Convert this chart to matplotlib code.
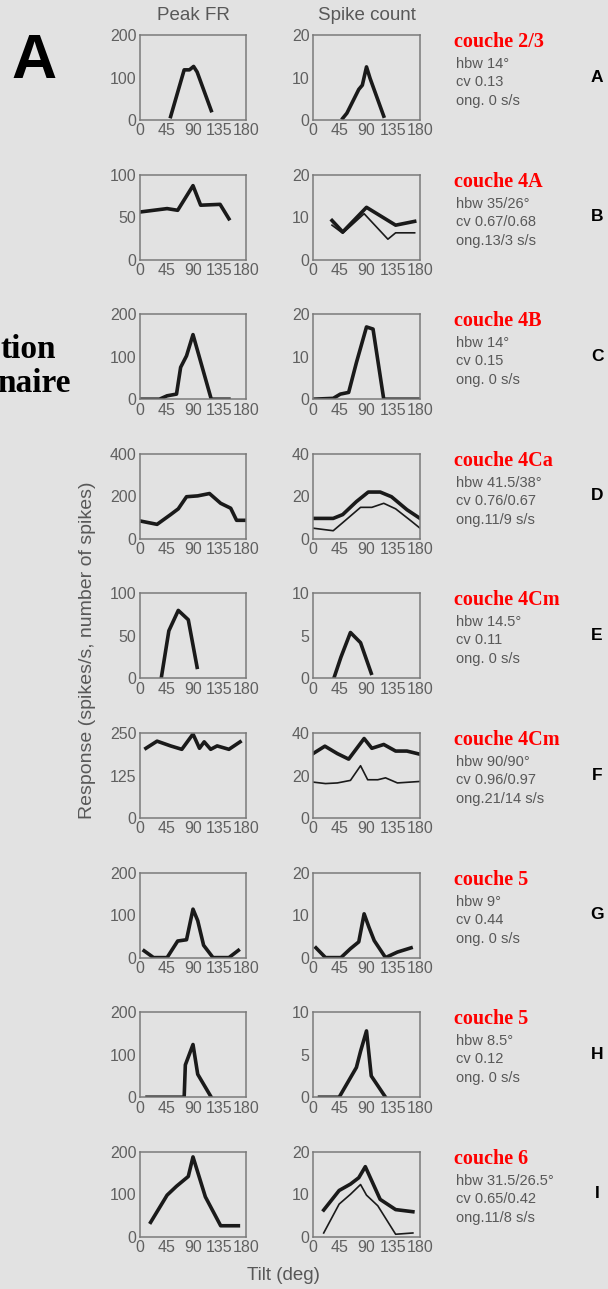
import matplotlib as mpl
mpl.use('Agg')
import matplotlib.pyplot as plt

# tilt (deg) / peak firing rate
frA_x = [52, 75, 84, 91, 97, 121]
frA_y = [8, 118, 118, 126, 113, 22]
frB_x = [0, 46, 64, 90, 103, 136, 151]
frB_y = [56, 60, 58, 87, 64, 65, 48]
frC_x = [0, 33, 46, 62, 69, 79, 90, 121, 151]
frC_y = [0, 0, 8, 12, 75, 102, 152, 0, 0]
frD_x = [0, 29, 52, 65, 79, 98, 118, 137, 154, 164, 180]
frD_y = [84, 68, 114, 141, 198, 202, 213, 167, 144, 87, 87]
frE_x = [36, 49, 65, 82, 97]
frE_y = [0, 56, 80, 69, 13]
frF_x = [10, 29, 52, 71, 90, 101, 109, 120, 131, 151, 170]
frF_y = [205, 226, 212, 202, 247, 205, 224, 202, 212, 202, 224]
frG_x = [7, 23, 46, 64, 79, 90, 98, 108, 124, 151, 167]
frG_y = [16, 0, 0, 39, 42, 114, 87, 29, 0, 0, 17]
frH_x = [12, 75, 77, 90, 98, 121]
frH_y = [0, 0, 76, 124, 54, 0]
frI_x = [18, 46, 62, 82, 90, 111, 137, 167]
frI_y = [34, 98, 119, 142, 188, 94, 26, 26]

# tilt (deg) / spike count (thick line, and thin line where there is one)
scA_x = [50, 57, 77, 83, 90, 96, 119]
scA_y = [0.4, 1.6, 7.2, 8.2, 12.5, 9.8, 0.9]
scB_x = [32, 50, 90, 139, 171]
scB_y = [9.2, 6.5, 12.3, 8.1, 9.0]
scB_x2 = [32, 50, 86, 126, 139, 171]
scB_y2 = [8.1, 6.2, 10.8, 4.8, 6.3, 6.3]
scC_x = [0, 34, 46, 60, 73, 90, 101, 119, 180]
scC_y = [0, 0.2, 1.2, 1.6, 8.6, 17, 16.5, 0, 0]
scD_x = [0, 34, 50, 73, 93, 113, 132, 158, 180]
scD_y = [9.6, 9.6, 11.4, 17.5, 22, 22, 19.8, 13.7, 9.6]
scD_x2 = [0, 34, 50, 80, 99, 119, 139, 165, 180]
scD_y2 = [5.0, 3.8, 7.6, 14.8, 14.8, 16.7, 14.1, 8.4, 5.0]
scE_x = [35, 47, 63, 80, 98]
scE_y = [0, 2.5, 5.4, 4.2, 0.6]
scF_x = [0, 20, 41, 60, 86, 99, 119, 139, 158, 180]
scF_y = [30.3, 33.8, 30.3, 27.7, 37.4, 32.8, 34.6, 31.5, 31.5, 30.0]
scF_x2 = [0, 21, 41, 63, 80, 92, 109, 122, 142, 180]
scF_y2 = [16.9, 16.2, 16.5, 17.7, 24.6, 18.0, 18.0, 18.9, 16.5, 17.2]
scG_x = [5, 21, 47, 63, 77, 86, 94, 103, 122, 142, 165]
scG_y = [2.3, 0, 0, 2.1, 3.7, 10.3, 7.2, 4.0, 0, 1.3, 2.3]
scH_x = [11, 44, 73, 80, 90, 98, 122]
scH_y = [0, 0, 3.5, 5.4, 7.8, 2.5, 0]
scI_x = [18, 44, 63, 77, 88, 113, 139, 168]
scI_y = [6.3, 10.9, 12.4, 13.9, 16.5, 8.8, 6.4, 5.9]
scI_x2 = [18, 44, 63, 80, 90, 109, 139, 168]
scI_y2 = [0.9, 7.7, 10.0, 12.3, 9.8, 7.3, 0.6, 0.9]

fr_ticks = [[0, 100, 200], [0, 50, 100], [0, 100, 200], [0, 200, 400], [0, 50, 100],
            [0, 125, 250], [0, 100, 200], [0, 100, 200], [0, 100, 200]]
sc_ticks = [[0, 10, 20], [0, 10, 20], [0, 10, 20], [0, 20, 40], [0, 5, 10],
            [0, 20, 40], [0, 10, 20], [0, 5, 10], [0, 10, 20]]
x_ticks = [0, 45, 90, 135, 180]

layers = ['couche 2/3', 'couche 4A', 'couche 4B', 'couche 4Ca', 'couche 4Cm',
          'couche 4Cm', 'couche 5', 'couche 5', 'couche 6']
hbw = ['hbw 14°', 'hbw 35/26°', 'hbw 14°', 'hbw 41.5/38°', 'hbw 14.5°',
       'hbw 90/90°', 'hbw 9°', 'hbw 8.5°', 'hbw 31.5/26.5°']
cv = ['cv 0.13', 'cv 0.67/0.68', 'cv 0.15', 'cv 0.76/0.67', 'cv 0.11',
      'cv 0.96/0.97', 'cv 0.44', 'cv 0.12', 'cv 0.65/0.42']
ong = ['ong. 0 s/s', 'ong.13/3 s/s', 'ong. 0 s/s', 'ong.11/9 s/s', 'ong. 0 s/s',
       'ong.21/14 s/s', 'ong. 0 s/s', 'ong. 0 s/s', 'ong.11/8 s/s']
row_letters = ['A', 'B', 'C', 'D', 'E', 'F', 'G', 'H', 'I']

fr_data = [(frA_x, frA_y), (frB_x, frB_y), (frC_x, frC_y), (frD_x, frD_y), (frE_x, frE_y),
           (frF_x, frF_y), (frG_x, frG_y), (frH_x, frH_y), (frI_x, frI_y)]
sc_data = [(scA_x, scA_y, None, None), (scB_x, scB_y, scB_x2, scB_y2),
           (scC_x, scC_y, None, None), (scD_x, scD_y, scD_x2, scD_y2),
           (scE_x, scE_y, None, None), (scF_x, scF_y, scF_x2, scF_y2),
           (scG_x, scG_y, None, None), (scH_x, scH_y, None, None),
           (scI_x, scI_y, scI_x2, scI_y2)]

W, H = 608, 1289
bg = '#e2e2e2'
gray = '#585858'
plt.rcParams['font.family'] = ['Liberation Sans', 'DejaVu Sans']

fig = plt.figure(figsize=(W / 100, H / 100), dpi=100, facecolor=bg)

def px(x, y):
	# pixel position (from top-left) -> figure fraction
	return x / W, 1 - y / H

def setup(ax, yt):
	ax.set_facecolor(bg)
	ax.set_xlim(0, 180)
	ax.set_ylim(0, yt[-1])
	ax.set_xticks(x_ticks)
	ax.set_yticks(yt)
	ax.tick_params(length=0, pad=2.5, labelsize=11.5, labelcolor='#606060')
	for s in ax.spines.values():
		s.set_color('#7a7a7a')
		s.set_linewidth(1.1)

for i in range(9):
	top = 35 + i * 139.6
	ax1 = fig.add_axes([140 / W, 1 - (top + 85) / H, 106 / W, 85 / H])
	setup(ax1, fr_ticks[i])
	ax1.plot(fr_data[i][0], fr_data[i][1], color='#1a1a1a', lw=2.6, solid_joinstyle='round')

	ax2 = fig.add_axes([313 / W, 1 - (top + 85) / H, 107 / W, 85 / H])
	setup(ax2, sc_ticks[i])
	x, y, x2, y2 = sc_data[i]
	ax2.plot(x, y, color='#1a1a1a', lw=2.6, solid_joinstyle='round')
	if x2 is not None:
		ax2.plot(x2, y2, color='#1a1a1a', lw=1.2)

	fig.text(*px(454, top + 7), layers[i], color='red', fontsize=14.5, fontweight='bold',
			 family='Liberation Serif', va='center', ha='left')
	fig.text(*px(456, top + 29), hbw[i], color=gray, fontsize=10.5, va='center')
	fig.text(*px(456, top + 47), cv[i], color=gray, fontsize=10.5, va='center')
	fig.text(*px(456, top + 66), ong[i], color=gray, fontsize=10.5, va='center')
	fig.text(*px(597, top + 42), row_letters[i], color='black', fontsize=12.5,
			 fontweight='bold', va='center', ha='center')

fig.text(*px(193, 15), 'Peak FR', color=gray, fontsize=13.5, ha='center', va='center')
fig.text(*px(367, 15), 'Spike count', color=gray, fontsize=13.5, ha='center', va='center')
fig.text(*px(283, 1275), 'Tilt (deg)', color=gray, fontsize=13.5, ha='center', va='center')
fig.text(*px(88, 650), 'Response (spikes/s, number of spikes)', color=gray, fontsize=14,
		 ha='center', va='center', rotation=90)
fig.text(*px(34, 61), 'A', color='black', fontsize=45, fontweight='bold', ha='center', va='center')
fig.text(*px(56, 350), 'tion', color='black', fontsize=24, fontweight='bold',
		 family='Liberation Serif', ha='right', va='center')
fig.text(*px(71, 384), 'naire', color='black', fontsize=24, fontweight='bold',
		 family='Liberation Serif', ha='right', va='center')

fig.savefig('out.png', dpi=100, facecolor=bg)
